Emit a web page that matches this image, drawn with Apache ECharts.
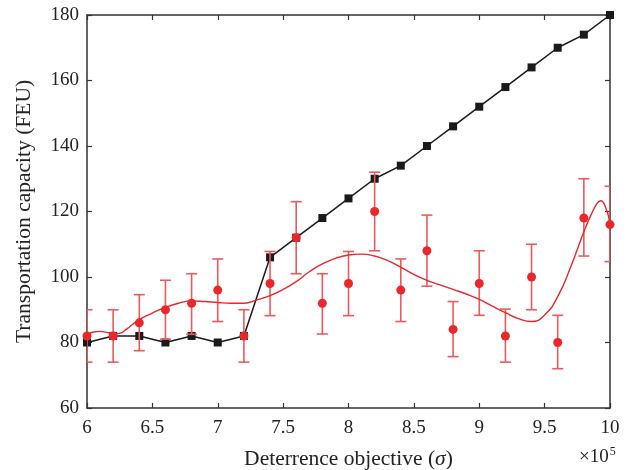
<!DOCTYPE html>
<html>
<head>
<meta charset="utf-8">
<title>Transportation capacity</title>
<script src="https://cdn.jsdelivr.net/npm/echarts@6/dist/echarts.min.js"></script>
<style>
  html,body{margin:0;padding:0;background:#fff;}
  #main{width:632px;height:470px;}
</style>
</head>
<body>
<div id="main"></div>
<script>
//x values (x10^5)
var xs=[6,6.2,6.4,6.6,6.8,7,7.2,7.4,7.6,7.8,8,8.2,8.4,8.6,8.8,9,9.2,9.4,9.6,9.8,10];
//black squares
var blackVals=[80,82,82,80,82,80,82,106,112,118,124,130,134,140,146,152,158,164,170,174,180];
//red dots and their error bars
var redVals=[82,82,86,90,92,96,82,98,112,92,98,120,96,108,84,98,82,100,80,118,116];
var redLow=[74,74,77.5,81,82.5,86.4,74,88.2,101,82.6,88.2,108,86.4,97.2,75.7,88.3,74,90,72,106.4,104.7];
var redHigh=[90,90,94.6,99,101,105.5,90,107.8,123,101,107.8,132,105.5,118.9,92.5,108,90.2,110,88.3,130,127.7];
//red fitted curve
var curveX=[6,6.05,6.1,6.15,6.2,6.25,6.3,6.4,6.5,6.6,6.7,6.8,6.9,7,7.1,7.2,7.3,7.4,7.5,7.6,7.7,7.8,7.9,8,8.1,8.2,8.3,8.4,8.5,8.6,8.7,8.8,8.9,9,9.1,9.2,9.3,9.4,9.5,9.6,9.7,9.8,9.85,9.9,9.93,9.96,10];
var curveY=[82.5,83.2,83.4,83.1,82.7,82.8,84,87,89,90.7,92,92.7,92.5,92.2,92,92,93,94.3,96.2,98.6,101.6,104,105.7,106.7,107,106.4,105,103,100.8,99,97.6,96.2,94.8,93.2,91.1,89.1,87.3,86.4,88.4,94,103.1,113.8,118.5,122.4,123.3,122,116.5];

var serif='"Liberation Serif","DejaVu Serif",serif';
var red='#e8282b';
var errRed='#ee5a5c';

function toPairs(a,b){
	var out=[];
	for(var i=0;i<a.length;i++){
		out.push([a[i],b[i]]);
	}
	return out;
}
var errData=[];
for(var i=0;i<xs.length;i++){
	errData.push([xs[i],redLow[i],redHigh[i]]);
}

var myChart=echarts.init(document.getElementById('main'),null,{renderer:'canvas'});
var axisLine={lineStyle:{color:'#333',width:1.5}};
var tick={inside:true,length:5,lineStyle:{color:'#333',width:1.2}};
var option={
	backgroundColor:'#fff',
	animation:false,
	grid:{left:87,right:22,top:15,bottom:62,containLabel:false,outerBoundsMode:'none'},
	xAxis:[{
		type:'value',min:6,max:10,interval:0.5,
		axisLine:axisLine,
		axisTick:tick,
		splitLine:{show:false},
		axisLabel:{color:'#222',fontFamily:serif,fontSize:19,margin:11},
		name:'Deterrence objective ({i|σ})',
		nameLocation:'middle',nameGap:40,
		nameTextStyle:{color:'#222',fontFamily:serif,fontSize:21.5,
			rich:{i:{fontStyle:'italic',fontFamily:serif,fontSize:21.5,color:'#222'}}}
	},{
		type:'value',min:6,max:10,interval:0.5,position:'top',
		axisLine:axisLine,
		axisTick:tick,
		axisLabel:{show:false},splitLine:{show:false}
	}],
	yAxis:[{
		type:'value',min:60,max:180,interval:20,
		axisLine:axisLine,
		axisTick:tick,
		splitLine:{show:false},
		axisLabel:{color:'#222',fontFamily:serif,fontSize:19,margin:8},
		name:'Transportation capacity (FEU)',
		nameLocation:'middle',nameGap:52,
		nameTextStyle:{color:'#222',fontFamily:serif,fontSize:21.5}
	},{
		type:'value',min:60,max:180,interval:20,position:'right',
		axisLine:axisLine,
		axisTick:tick,
		axisLabel:{show:false},splitLine:{show:false}
	}],
	graphic:[{
		type:'text',left:579,top:446,
		style:{
			text:'×10{s|5}',
			font:'19px '+serif,fill:'#222',
			rich:{s:{fontSize:12,fontFamily:serif,verticalAlign:'top',padding:[0,0,10,1]}}
		}
	}],
	series:[{
		//black squares
		type:'line',
		data:toPairs(xs,blackVals),
		symbol:'rect',symbolSize:8,
		lineStyle:{color:'#1a1a1a',width:1.5},
		itemStyle:{color:'#1a1a1a'},
		z:2
	},{
		//error bars
		type:'custom',
		data:errData,
		clip:true,
		renderItem:function(params,api){
			var x=api.value(0);
			var top=api.coord([x,api.value(2)]);
			var bot=api.coord([x,api.value(1)]);
			var w=5.5;
			var st={stroke:errRed,lineWidth:1.6};
			return {type:'group',children:[
				{type:'line',shape:{x1:top[0],y1:top[1],x2:bot[0],y2:bot[1]},style:st},
				{type:'line',shape:{x1:top[0]-w,y1:top[1],x2:top[0]+w,y2:top[1]},style:st},
				{type:'line',shape:{x1:bot[0]-w,y1:bot[1],x2:bot[0]+w,y2:bot[1]},style:st}
			]};
		},
		z:3
	},{
		//fitted curve
		type:'line',
		data:toPairs(curveX,curveY),
		smooth:true,
		showSymbol:false,
		lineStyle:{color:red,width:1.4},
		z:3
	},{
		//red dots
		type:'scatter',
		data:toPairs(xs,redVals),
		symbol:'circle',symbolSize:9,
		itemStyle:{color:red,opacity:1},
		z:4
	}]
};
myChart.setOption(option);
</script>
</body>
</html>
